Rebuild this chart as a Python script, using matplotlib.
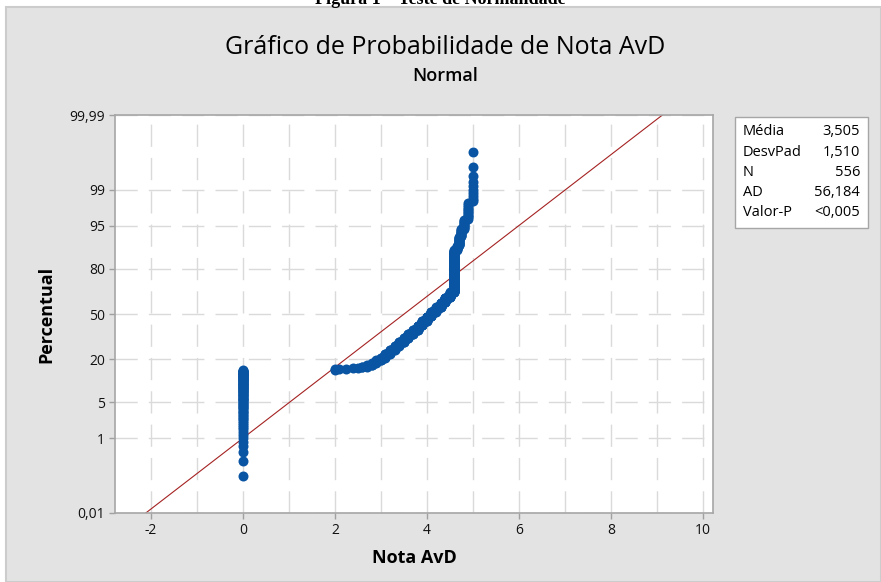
import numpy as np
import matplotlib
matplotlib.use("Agg")
import matplotlib.pyplot as plt
from matplotlib.patches import Rectangle
from statistics import NormalDist

plt.rcParams['font.family'] = ['Open Sans', 'DejaVu Sans']

# ---- data (distinct values of Nota AvD and their counts) ----
nota_values = [0.0, 2.0, 2.1, 2.25, 2.4, 2.5, 2.6, 2.7, 2.8, 2.9, 3.0, 3.1, 3.2, 3.3,
               3.4, 3.5, 3.6, 3.7, 3.8, 3.9, 4.0, 4.1, 4.2, 4.3, 4.4, 4.5, 4.58,
               4.65, 4.7, 4.75, 4.8, 4.9, 5.0]
nota_counts = [82, 2, 1, 1, 1, 1, 2, 4, 6, 8, 7, 12, 13, 13,
               14, 15, 15, 16, 18, 18, 19, 19, 19, 19, 20, 21, 126,
               8, 15, 10, 10, 11, 10]

media = 3.505
desvpad = 1.510
stat_labels = ["Média", "DesvPad", "N", "AD", "Valor-P"]
stat_values = ["3,505", "1,510", "556", "56,184", "<0,005"]

y_ticks_pct = [0.01, 1, 5, 20, 50, 80, 95, 99, 99.99]
y_tick_labels = ["0,01", "1", "5", "20", "50", "80", "95", "99", "99,99"]
x_ticks = [-2, 0, 2, 4, 6, 8, 10]
x_tick_labels = ["-2", "0", "2", "4", "6", "8", "10"]

nd = NormalDist()
data = np.sort(np.repeat(nota_values, nota_counts))
n = len(data)
ranks = np.arange(1, n + 1)
pp = (ranks - 0.3) / (n + 0.4)
zq = np.array([nd.inv_cdf(p) for p in pp])

W, H = 881, 582
fig = plt.figure(figsize=(W / 100, H / 100), dpi=100, facecolor='white')

# gray panel
fig.patches.append(Rectangle((6 / W, 0), 1 - 6 / W, 1 - 7 / H, transform=fig.transFigure,
                             facecolor='#e3e3e3', edgecolor='#cccccc', lw=1.5, zorder=-5))
# clipped caption at the top
fig.text(0.5, 1 - 4 / H, "Figura 1 – Teste de Normalidade", ha='center', va='baseline',
         family='Liberation Serif', fontweight='bold', fontsize=13, color='black')

ax = fig.add_axes([115 / W, 1 - 513 / H, (713 - 115) / W, (513 - 115) / H])
ax.set_zorder(1)
ax.set_facecolor('white')

zmax = nd.inv_cdf(0.9999)
ax.set_xlim(-2.78, 10.22)
ax.set_ylim(-zmax, zmax)

# grid
for xv in range(-2, 11):
    ax.axvline(xv, color='#dadada', lw=1.0, dashes=(16, 8), zorder=1)
for pv in y_ticks_pct:
    ax.axhline(nd.inv_cdf(pv / 100), color='#dadada', lw=1.0, dashes=(16, 8), zorder=1)

# fitted line
xl = np.array([-3.0, 11.0])
ax.plot(xl, (xl - media) / desvpad, color='#a52222', lw=0.8, zorder=2)

# points
ax.plot(data, zq, 'o', color='#0a55a3', ms=7.2, mec='none', zorder=3)

ax.set_xticks(x_ticks)
ax.set_xticklabels(x_tick_labels)
ax.set_yticks([nd.inv_cdf(p / 100) for p in y_ticks_pct])
ax.set_yticklabels(y_tick_labels)
ax.tick_params(axis='both', length=4, width=1, color='#a0a0a0', labelsize=10,
               labelcolor='#111111', pad=3)
for s in ax.spines.values():
    s.set_color('#a6a6a6')
    s.set_linewidth(1.2)

ax.set_xlabel("Nota AvD", fontsize=13, fontweight='bold', labelpad=8)
ax.set_ylabel("Percentual", fontsize=13, fontweight='bold', labelpad=10)

fig.text(0.505, 1 - 48 / H, "Gráfico de Probabilidade de Nota AvD", ha='center', va='center',
         fontsize=18)
fig.text(0.505, 1 - 76 / H, "Normal", ha='center', va='center', fontsize=13,
         fontweight='semibold')

# stats box
fig.patches.append(Rectangle((735 / W, 1 - 228 / H), (868 - 735) / W, (228 - 117) / H,
                             transform=fig.transFigure, facecolor='white',
                             edgecolor='#a6a6a6', lw=1.0, zorder=1))
row_y = [131.5, 152.5, 172.5, 192.5, 212]
for lab, val, yy in zip(stat_labels, stat_values, row_y):
    fig.text(743 / W, 1 - yy / H, lab, ha='left', va='center', fontsize=10.5, zorder=2)
    fig.text(860 / W, 1 - yy / H, val, ha='right', va='center', fontsize=10.5, zorder=2)

fig.savefig("out.png", dpi=100, facecolor='white')
